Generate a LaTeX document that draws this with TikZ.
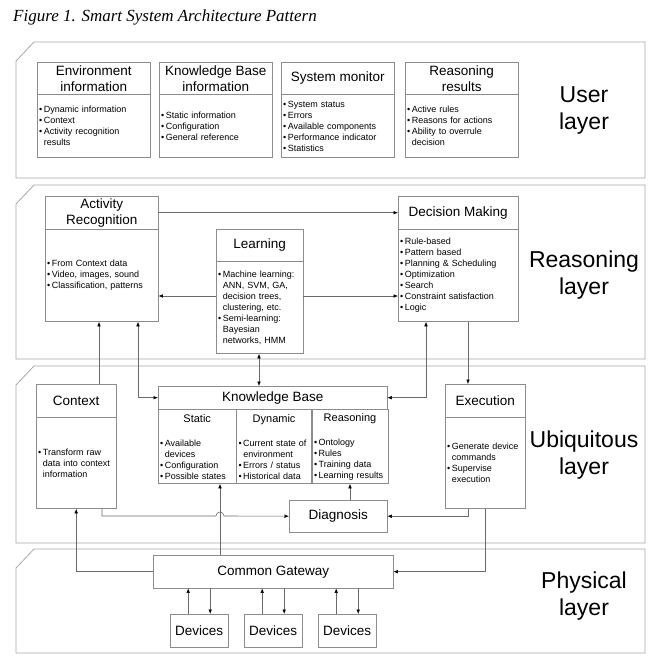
\documentclass[tikz,border=0pt]{standalone}
\usepackage{fontspec}
\setmainfont{Liberation Sans}
\newfontfamily\capfont{Liberation Serif}
\usetikzlibrary{arrows.meta}
\definecolor{panelgray}{HTML}{A8A8A8}
\definecolor{boxgray}{HTML}{8C8C8C}
\definecolor{linegray}{HTML}{6A6A6A}
\newcommand\bu{\textbullet\hspace{1.5pt}}
\newcommand\ind{\phantom{\bu}}
\newcommand\subfont{\fontsize{11}{13}\selectfont}
\tikzset{
  panel/.style={draw=panelgray,line width=0.8pt},
  head/.style={draw=boxgray,anchor=north west,align=center,inner sep=1pt,font=\fontsize{13.5}{16}\selectfont},
  body/.style={draw=boxgray,anchor=north west,align=left,inner sep=2pt,font=\fontsize{9}{11}\selectfont},
  conn/.style={draw=linegray,line width=0.6pt},
  layer/.style={align=center,font=\fontsize{23}{27}\selectfont}
}
\begin{document}
\begin{tikzpicture}[x=1pt,y=-1pt,>={Latex[length=4.5pt,width=3.6pt,color=black]}]
  \fill[white] (0,0) rectangle (665,665);
  \useasboundingbox (0,0) rectangle (665,665);
  \node[anchor=west,inner sep=0pt] (cap) at (13,17) {\capfont\itshape\fontsize{17}{20}\selectfont Figure 1. Smart System Architecture Pattern};
  \foreach \t/\b in {42/178,185/359,366/543,549/653}
    \draw[panel] (34,\t) -- (645,\t) -- (645,\b) -- (16,\b) -- (16,\t+19) -- cycle;
  \node[layer] (ulab) at (584,110) {User\\layer};
  \node[layer] (rlab) at (584,275) {Reasoning\\layer};
  \node[layer] (ublab) at (584,455) {Ubiquitous\\layer};
  \node[layer] (plab) at (584,596) {Physical\\layer};

  \node[head,minimum width=113pt,minimum height=32pt] (envh) at (37,62) {Environment\\information};
  \node[body,text width=109pt,minimum height=63pt] (envb) at (envh.south west) {\bu Dynamic information\\\bu Context\\\bu Activity recognition\\\ind results};
  \node[head,minimum width=113pt,minimum height=32pt] (kbih) at (159,62) {Knowledge Base\\information};
  \node[body,text width=109pt,minimum height=63pt] (kbib) at (kbih.south west) {\bu Static information\\\bu Configuration\\\bu General reference};
  \node[head,minimum width=113pt,minimum height=32pt] (smh) at (281,62) {System monitor};
  \node[body,text width=109pt,minimum height=63pt] (smb) at (smh.south west) {\bu System status\\\bu Errors\\\bu Available components\\\bu Performance indicator\\\bu Statistics};
  \node[head,minimum width=113pt,minimum height=32pt] (rrh) at (405,62) {Reasoning\\results};
  \node[body,text width=109pt,minimum height=63pt] (rrb) at (rrh.south west) {\bu Active rules\\\bu Reasons for actions\\\bu Ability to overrule\\\ind decision};

  \node[head,minimum width=113pt,minimum height=33pt] (arh) at (45,196) {Activity\\Recognition};
  \node[body,text width=109pt,minimum height=92pt] (arb) at (arh.south west) {\bu From Context data\\\bu Video, images, sound\\\bu Classification, patterns};
  \node[head,minimum width=120pt,minimum height=33pt] (dmh) at (398,196) {Decision Making};
  \node[body,text width=116pt,minimum height=92pt] (dmb) at (dmh.south west) {\bu Rule-based\\\bu Pattern based\\\bu Planning \& Scheduling\\\bu Optimization\\\bu Search\\\bu Constraint satisfaction\\\bu Logic};
  \node[head,minimum width=87pt,minimum height=32pt] (lnh) at (216,229) {Learning};
  \node[body,text width=83pt,minimum height=92pt] (lnb) at (lnh.south west) {\bu Machine learning:\\\ind ANN, SVM, GA,\\\ind decision trees,\\\ind clustering, etc.\\\bu Semi-learning:\\\ind Bayesian\\\ind networks, HMM};

  \node[head,minimum width=80pt,minimum height=33pt] (ctxh) at (36,384) {Context};
  \node[body,text width=76pt,minimum height=91pt] (ctxb) at (ctxh.south west) {\bu Transform raw\\\ind data into context\\\ind information};
  \node[head,minimum width=229pt,minimum height=23pt] (kbh) at (158,386) {Knowledge Base};
  \node[body,text width=74pt,minimum height=74pt] (kbs) at (kbh.south west) {\makebox[74pt]{\subfont Static}\\[13pt]\bu Available\\\ind devices\\\bu Configuration\\\bu Possible states};
  \node[body,text width=71pt,minimum height=74pt] (kbd) at (kbs.north east) {\makebox[71pt]{\subfont Dynamic}\\[13pt]\bu Current state of\\\ind environment\\\bu Errors / status\\\bu Historical data};
  \node[body,text width=72pt,minimum height=74pt] (kbr) at (kbd.north east) {\makebox[72pt]{\subfont Reasoning}\\[13pt]\bu Ontology\\\bu Rules\\\bu Training data\\\bu Learning results};
  \node[head,minimum width=80pt,minimum height=33pt] (exh) at (445,384) {Execution};
  \node[body,text width=76pt,minimum height=91pt] (exb) at (exh.south west) {\bu Generate device\\\ind commands\\\bu Supervise\\\ind execution};
  \node[head,minimum width=98pt,minimum height=32pt] (diag) at (289,500) {Diagnosis};

  \node[head,minimum width=240pt,minimum height=33pt] (gw) at (153,555) {Common Gateway};
  \foreach \i/\x in {1/170,2/244,3/318}
    \node[head,minimum width=58pt,minimum height=33pt] (dev\i) at (\x,614) {Devices};

  \draw[conn,->] (arh) -- (dmh);
  \draw[conn,->] (lnb.west |- 0,296) -- (arb.east |- 0,296);
  \draw[conn,->] (lnb.east |- 0,296) -- (dmb.west |- 0,296);
  \draw[conn,->] (ctxh.north -| 99,0) -- (arb.south -| 99,0);
  \draw[conn,<->] (arb.south -| 138,0) |- (kbh.west);
  \draw[conn,<->] (kbh.east) -| (dmb.south -| 426,0);
  \draw[conn,<->] (lnb.south -| 259,0) -- (kbh.north -| 259,0);
  \draw[conn,->] (dmb.south -| 468,0) -- (exh.north -| 468,0);
  \draw[conn,->] (ctxb.south -| 102,0) |- (216,516) arc[start angle=180,end angle=360,radius=4] -- (diag.west);
  \draw[conn,->] (exb.south -| 468,0) |- (diag.east);
  \draw[conn,->] (diag.north -| kbr.south) -- (kbr.south);
  \draw[conn,->] (gw.north -| 220,0) -- (kbs.south -| 220,0);
  \draw[conn,->] (gw.west) -| (ctxb.south);
  \draw[conn,->] (exb.south) |- (gw.east);
  \foreach \i in {1,2,3} {
    \draw[conn,->] ([xshift=-11pt]dev\i.north) -- ([xshift=-11pt]dev\i.north |- gw.south);
    \draw[conn,->] ([xshift=11pt]dev\i.north |- gw.south) -- ([xshift=11pt]dev\i.north);
  }
\end{tikzpicture}
\end{document}
